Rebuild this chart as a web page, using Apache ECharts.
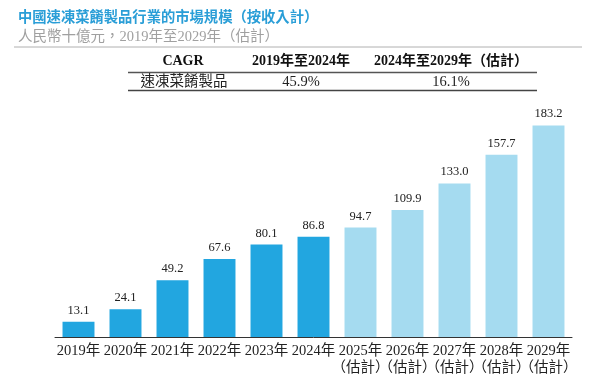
<!DOCTYPE html>
<html><head><meta charset="utf-8">
<script src="https://cdn.jsdelivr.net/npm/echarts@6/dist/echarts.min.js"></script>
<style>html,body{margin:0;padding:0;background:#fff}#c{width:596px;height:379px}</style>
</head><body><div id="c"></div>
<script>
const categories = ['2019年','2020年','2021年','2022年','2023年','2024年','2025年\n（估計）','2026年\n（估計）','2027年\n（估計）','2028年\n（估計）','2029年\n（估計）'];
const values = [13.1, 24.1, 49.2, 67.6, 80.1, 86.8, 94.7, 109.9, 133.0, 157.7, 183.2];
const estimated = [false,false,false,false,false,false,true,true,true,true,true];
const titleText = '中國速凍菜餚製品行業的市場規模（按收入計）';
const subtitleText = '人民幣十億元，2019年至2029年（估計）';
const tableHeader = ['CAGR', '2019年至2024年', '2024年至2029年（估計）'];
const tableRow = ['速凍菜餚製品', '45.9%', '16.1%'];

const SERIF = '"Liberation Serif","DejaVu Serif","Noto Sans CJK TC",serif';
const DARK = '#22A6E0', LIGHT = '#A5DBF0';
const chart = echarts.init(document.getElementById('c'));
const colX = [183, 301, 451];
chart.setOption({
  animation: false,
  textStyle: {fontFamily: SERIF},
  title: {
    text: titleText, subtext: subtitleText, left: 13, top: 6, itemGap: 5,
    textStyle: {fontFamily: SERIF, fontSize: 14.3, fontWeight: 'bold', color: '#2A9ED7'},
    subtextStyle: {fontFamily: SERIF, fontSize: 14.5, color: '#a0a0a0'}
  },
  graphic: [
    {type: 'line', shape: {x1: 14, y1: 47, x2: 582, y2: 47}, style: {stroke: '#b0b0b0', lineWidth: 1}},
    {type: 'line', shape: {x1: 128, y1: 72.5, x2: 537, y2: 72.5}, style: {stroke: '#555', lineWidth: 1.5}},
    {type: 'line', shape: {x1: 128, y1: 90.5, x2: 537, y2: 90.5}, style: {stroke: '#444', lineWidth: 1.5}},
    ...tableHeader.map((t, i) => ({type: 'text', x: colX[i], y: 61, style: {text: t, align: 'center', verticalAlign: 'middle', font: 'bold 14px ' + SERIF, fill: '#111'}})),
    ...tableRow.map((t, i) => ({type: 'text', x: i === 0 ? 184 : colX[i], y: 82, style: {text: t, align: 'center', verticalAlign: 'middle', font: '14.5px ' + SERIF, fill: '#222'}}))
  ],
  grid: {left: 55, right: 24, top: 106, bottom: 42},
  xAxis: {
    type: 'category', data: categories,
    axisLine: {lineStyle: {color: '#333', width: 1}},
    axisTick: {show: false},
    axisLabel: {interval: 0, margin: 6, fontSize: 14.5, color: '#222', fontFamily: SERIF, lineHeight: 17}
  },
  yAxis: {type: 'value', min: 0, max: 200, show: false, splitLine: {show: false}},
  series: [{
    type: 'bar', barWidth: '68%',
    data: values.map((v, i) => ({value: v, itemStyle: {color: estimated[i] ? LIGHT : DARK}})),
    label: {show: true, position: 'top', distance: 5, fontSize: 12.5, color: '#222', fontFamily: SERIF,
      formatter: p => p.value.toFixed(1)}
  }]
});
</script></body></html>
